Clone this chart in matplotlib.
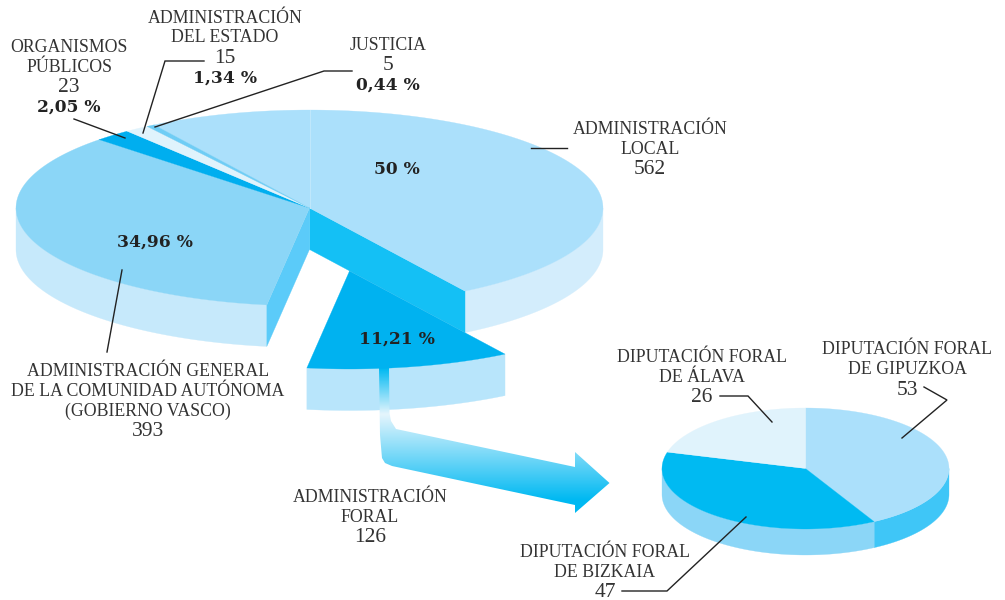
import numpy as np
import matplotlib
matplotlib.use("Agg")
import matplotlib.pyplot as plt
from matplotlib.patches import Polygon

# main pie
main_names = ["ADMINISTRACIÓN LOCAL", "ADMINISTRACIÓN FORAL", "ADMINISTRACIÓN GENERAL",
              "ORGANISMOS PÚBLICOS", "ADMINISTRACIÓN DEL ESTADO", "JUSTICIA"]
main_values = [562, 126, 393, 23, 15, 5]
main_pct = ["50 %", "11,21 %", "34,96 %", "2,05 %", "1,34 %", "0,44 %"]
main_top = ["#ABE0FB", "#00B2F0", "#8BD6F7", "#00AEEF", "#E0F3FC", "#6FCDF5"]
main_wall = ["#D3EDFC", "#B8E5FB", "#C6E9FB", "#C6E9FB", "#C6E9FB", "#C6E9FB"]

# small pie, breakdown of the foral slice
foral_names = ["DIPUTACIÓN FORAL DE GIPUZKOA", "DIPUTACIÓN FORAL DE BIZKAIA", "DIPUTACIÓN FORAL DE ÁLAVA"]
foral_values = [53, 47, 26]
foral_top = ["#ABE0FB", "#00BAF2", "#E0F3FC"]
foral_wall = ["#3FC6F7", "#8BD6F7", "#E0F3FC"]

TXT = "#333333"
SERIF = "Liberation Serif"
BOLD = "DejaVu Serif"

fig = plt.figure(figsize=(10.05, 6), dpi=100)
ax = fig.add_axes([0, 0, 1, 1])
ax.set_xlim(0, 1005)
ax.set_ylim(600, 0)
ax.axis("off")


def rim(c, ang):
    # ang in degrees, clockwise from top of the ellipse
    a = np.radians(ang)
    return np.column_stack([c[0] + c[2] * np.sin(a), c[1] - c[3] * np.cos(a)])


def spans(values, start):
    v = np.array(values, dtype=float)
    edges = start + np.concatenate([[0], np.cumsum(v / v.sum() * 360)])
    return list(zip(edges[:-1], edges[1:]))


def top_face(c, a0, a1, color, off=(0, 0), z=3):
    pts = rim(c, np.linspace(a0, a1, 120))
    pts = np.vstack([[c[0], c[1]], pts]) + off
    ax.add_patch(Polygon(pts, closed=True, fc=color, ec=color, lw=0.2, zorder=z))


def outer_wall(c, a0, a1, color, off=(0, 0), z=2):
    # only the front half of the rim shows
    lo, hi = max(a0, 90), min(a1, 270)
    if hi <= lo:
        return
    pts = rim(c, np.linspace(lo, hi, 120)) + off
    low = pts + (0, c[4])
    ax.add_patch(Polygon(np.vstack([pts, low[::-1]]), closed=True, fc=color, ec=color, lw=0.2, zorder=z))


def cut_wall(c, ang, color, z=2):
    p = rim(c, np.array([ang]))[0]
    pts = [(c[0], c[1]), p, p + (0, c[4]), (c[0], c[1] + c[4])]
    ax.add_patch(Polygon(pts, closed=True, fc=color, ec=color, lw=0.2, zorder=z))


# cx, cy, rx, ry, depth
big = (309.5, 208, 293.5, 98, 41.5)
main_spans = spans(main_values, -32)
explode = np.array([40, 63])

for i, (a0, a1) in enumerate(main_spans):
    if i == 1:
        continue
    outer_wall(big, a0, a1, main_wall[i])
cut_wall(big, main_spans[1][0], "#14C0F5", z=2.5)
cut_wall(big, main_spans[1][1], "#5BCBF9", z=2.5)
for i, (a0, a1) in enumerate(main_spans):
    if i == 1:
        continue
    top_face(big, a0, a1, main_top[i])
# seam on the local slice
ax.plot([big[0], big[0]], [big[1] - big[3], big[1]], color="#C0E8FC", lw=0.7, zorder=3.5)

# exploded slice
a0, a1 = main_spans[1]
outer_wall(big, a0, a1, main_wall[1], off=explode, z=4)
top_face(big, a0, a1, main_top[1], off=explode, z=6)

# arrow with gradient
arrow_pts = [(379, 368), (389, 368), (389.5, 413), (391, 421), (396, 429), (575, 467), (575, 452),
             (609.5, 483), (575, 513), (575, 505), (392, 466), (385, 463), (382, 458), (380, 435)]
arrow = Polygon(arrow_pts, closed=True, fc="none", ec="none", zorder=5)
ax.add_patch(arrow)
ys = [368, 414, 500]
stops = np.array([[0, 185, 242], [229, 245, 253], [0, 185, 242]], dtype=float) / 255
yy = np.linspace(360, 515, 200)
grad = np.stack([np.interp(yy, ys, stops[:, k]) for k in range(3)], axis=1)[:, None, :]
im = ax.imshow(grad, extent=(370, 615, 515, 360), aspect="auto", zorder=5, interpolation="bilinear")
im.set_clip_path(arrow)
ax.set_xlim(0, 1005)
ax.set_ylim(600, 0)

# small pie
small = (805.5, 468.5, 143.5, 60.5, 26)
for i, (a0, a1) in enumerate(spans(foral_values, 0)):
    outer_wall(small, a0, a1, foral_wall[i])
    top_face(small, a0, a1, foral_top[i])

# leader lines
leaders = [
    ([74, 125], [119, 138]),
    ([204, 165, 143], [61, 61, 133]),
    ([352, 324, 155], [71, 71, 127]),
    ([531, 567], [148, 148]),
    ([122, 107], [270, 352]),
    ([720, 748, 772], [396, 396, 422]),
    ([924, 947, 902], [387, 400, 438]),
    ([746, 667, 622], [517, 591, 591]),
]
for xs, ys_ in leaders:
    ax.plot(xs, ys_, color="#222222", lw=1.0, zorder=8, solid_joinstyle="miter")


def label(x, y, s, bold=False):
    if bold:
        ax.text(x, y + 5.5, s, ha="center", va="baseline", family=BOLD, weight="bold", fontsize=12.3,
                color="#222222", zorder=9)
    elif s.isdigit():
        # figures are wider in the original face
        ax.text(x, y + 6, s, ha="center", va="baseline", family=SERIF, fontsize=15.5, color=TXT, zorder=9)
    else:
        ax.text(x, y + 6, s, ha="center", va="baseline", family=SERIF, fontsize=12.8, color=TXT, zorder=9)


def block(x, ys_, lines, pct=None):
    for y, s in zip(ys_, lines):
        label(x, y, s)
    if pct:
        label(x, ys_[len(lines)], pct, bold=True)


block(225, [17, 36, 57, 77], ["ADMINISTRACIÓN", "DEL ESTADO", str(main_values[4])], main_pct[4])
block(69, [46, 66, 86, 106], ["ORGANISMOS", "PÚBLICOS", str(main_values[3])], main_pct[3])
block(388, [44, 64, 84], ["JUSTICIA", str(main_values[5])], main_pct[5])
block(650, [128, 148, 168], ["ADMINISTRACIÓN", "LOCAL", str(main_values[0])])
block(148, [370, 390, 410, 430], ["ADMINISTRACIÓN GENERAL", "DE LA COMUNIDAD AUTÓNOMA",
                                  "(GOBIERNO VASCO)", str(main_values[2])])
block(370, [496, 516, 536], ["ADMINISTRACIÓN", "FORAL", str(main_values[1])])
block(702, [356, 376, 396], ["DIPUTACIÓN FORAL", "DE ÁLAVA", str(foral_values[2])])
block(907, [348, 368, 389], ["DIPUTACIÓN FORAL", "DE GIPUZKOA", str(foral_values[0])])
block(605, [551, 571, 591], ["DIPUTACIÓN FORAL", "DE BIZKAIA", str(foral_values[1])])
label(397, 169, main_pct[0], bold=True)
label(155, 241, main_pct[2], bold=True)
label(397, 338, main_pct[1], bold=True)

fig.savefig("out.png", dpi=100)
